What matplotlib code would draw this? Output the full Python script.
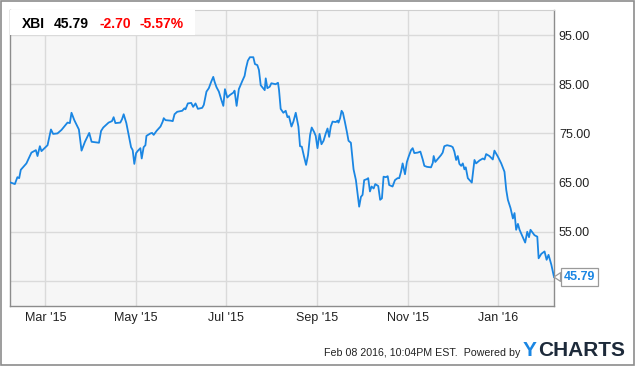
import matplotlib
matplotlib.use("Agg")
import matplotlib.pyplot as plt
import matplotlib.dates as mdates
import matplotlib.patches as mpatches
import numpy as np
import pandas as pd

##### XBI price chart, ycharts style #####

plt.rcParams['font.family'] = ['Liberation Sans', 'DejaVu Sans']

ticker = "XBI"
last_price = "45.79"
change_abs = "-2.70"
change_pct = "-5.57%"
stamp = "Feb 08 2016, 10:04PM EST.  Powered by"

# days since 2015-03-01 and closing price
base_date = "2015-03-01"
day_offset = [-23.5, -20.7, -19.0, -17.8, -16.7, -12.9, -9.5, -6.5, -5.4, -3.8,
              -2.7, 1.4, 3.7, 5.2, 8.1, 10.8, 14.9, 16.5, 17.6, 19.5,
              22.6, 24.4, 26.7, 29.6, 31.2, 36.2, 37.6, 39.1, 42.7, 45.0,
              46.1, 47.3, 50.6, 51.8, 52.9, 54.7, 56.3, 57.9, 59.0, 60.1,
              61.3, 62.6, 64.2, 65.1, 66.4, 67.6, 68.3, 71.0, 72.1, 73.2,
              75.1, 77.8, 79.3, 80.0, 81.2, 84.5, 86.1, 87.3, 89.1, 92.5,
              94.0, 94.7, 96.3, 98.6, 99.9, 101.5, 103.1, 106.0, 107.1, 108.9,
              110.5, 112.1, 113.5, 114.4, 115.7, 117.3, 118.9, 120.3, 121.4, 123.0,
              124.7, 127.1, 127.9, 129.3, 130.8, 133.2, 134.7, 135.6, 136.9, 138.3,
              140.6, 141.7, 143.3, 144.4, 145.6, 148.3, 149.0, 150.1, 151.7, 152.8,
              155.7, 157.3, 158.0, 159.1, 160.9, 162.5, 163.7, 164.7, 166.4, 167.7,
              169.3, 171.1, 172.2, 173.4, 174.9, 176.3, 177.6, 179.0, 180.1, 181.7,
              182.8, 184.0, 185.4, 186.7, 188.1, 189.6, 190.8, 191.9, 193.0, 194.2,
              196.4, 197.6, 198.2, 199.3, 200.3, 201.2, 202.5, 203.9, 205.0, 206.6,
              208.4, 210.0, 211.1, 212.2, 213.4, 214.5, 215.6, 217.4, 218.3, 219.5,
              220.6, 222.0, 223.1, 225.1, 226.4, 227.6, 228.7, 230.3, 231.5, 232.5,
              234.8, 236.4, 238.2, 239.3, 240.5, 241.6, 243.2, 244.5, 245.7, 247.3,
              248.4, 249.5, 251.8, 253.6, 255.2, 256.3, 258.1, 260.8, 262.0, 262.6,
              263.7, 267.6, 268.7, 269.8, 271.7, 274.4, 275.5, 276.6, 277.8, 278.9,
              280.0, 281.2, 282.3, 283.4, 284.3, 285.7, 288.4, 290.2, 291.3, 293.6,
              295.9, 297.0, 298.1, 300.3, 302.6, 303.7, 306.0, 308.3, 310.5, 311.7,
              312.8, 314.6, 316.2, 317.3, 318.4, 319.6, 320.7, 322.3, 324.5, 325.9,
              327.1, 328.1, 330.8, 332.7, 333.6, 335.4, 337.6, 339.0, 340.3, 342.2,
              343.2, 344.0]
price = [65.0, 64.7, 66.1, 65.9, 67.6, 68.9, 71.1, 71.6, 70.4, 72.4,
         71.4, 72.6, 75.8, 74.9, 75.0, 75.7, 77.2, 77.1, 79.2, 77.7,
         75.8, 71.5, 73.3, 75.1, 73.3, 73.1, 75.5, 76.2, 77.2, 77.5,
         78.3, 77.1, 77.2, 77.9, 78.9, 77.1, 74.7, 72.2, 71.6, 68.8,
         71.0, 71.5, 72.0, 69.9, 72.2, 72.6, 74.5, 75.0, 75.1, 74.7,
         75.5, 76.4, 77.4, 78.1, 77.7, 77.6, 77.5, 78.9, 79.4, 79.6,
         80.1, 79.9, 81.1, 81.2, 80.4, 81.1, 80.0, 80.2, 80.8, 83.5,
         84.2, 85.5, 86.5, 85.5, 84.4, 83.5, 81.9, 80.6, 84.0, 82.3,
         82.8, 83.3, 83.7, 80.6, 84.0, 85.7, 86.7, 88.2, 89.8, 90.5,
         90.5, 89.1, 88.9, 87.9, 84.8, 83.8, 86.2, 84.2, 84.5, 85.2,
         85.0, 85.3, 83.8, 80.0, 79.2, 79.6, 78.3, 78.5, 76.4, 77.4,
         79.2, 76.4, 72.4, 72.3, 70.3, 68.6, 70.6, 74.7, 76.2, 75.3,
         74.5, 72.0, 74.9, 72.8, 73.5, 75.0, 76.0, 74.3, 76.4, 77.4,
         77.3, 77.6, 77.2, 78.1, 79.6, 79.2, 77.4, 75.3, 73.5, 73.1,
         67.7, 65.5, 62.8, 60.1, 62.1, 62.5, 65.5, 65.7, 65.9, 63.2,
         64.2, 63.8, 64.7, 64.3, 61.5, 61.8, 66.2, 66.1, 66.3, 64.5,
         64.2, 65.5, 65.9, 65.9, 67.2, 68.9, 66.7, 69.2, 70.3, 71.6,
         72.0, 71.0, 71.1, 71.3, 69.7, 68.4, 68.2, 68.1, 69.0, 70.4,
         69.2, 70.6, 71.1, 72.4, 72.6, 72.4, 72.2, 71.3, 69.6, 70.4,
         68.8, 68.4, 68.9, 67.7, 68.1, 65.9, 65.0, 69.6, 68.9, 69.5,
         69.9, 69.7, 70.8, 70.4, 69.7, 71.5, 70.3, 68.9, 67.2, 63.5,
         61.5, 59.8, 57.7, 58.8, 55.4, 56.6, 55.4, 54.3, 52.8, 55.0,
         53.9, 55.4, 54.3, 54.0, 49.6, 50.5, 51.0, 49.3, 50.3, 48.3,
         46.9, 45.79]

y_ticks = [45, 55, 65, 75, 85, 95]
x_ticks = ["2015-03-01", "2015-05-01", "2015-07-01", "2015-09-01", "2015-11-01", "2016-01-01"]
x_range = ["2015-02-05", "2016-02-08"]

dates = pd.Timestamp(base_date) + pd.to_timedelta(day_offset, unit='D')

line_blue = "#1a86e3"
grid_col = "#dadada"
frame_col = "#8c8c8c"
text_col = "#222222"

fig = plt.figure(figsize=(6.35, 3.66), dpi=100)
fig.patch.set_facecolor("white")
# outer frame
fig.patches.append(mpatches.Rectangle((0.002, 0.002), 0.996, 0.994, transform=fig.transFigure,
                                      fill=False, ec=frame_col, lw=1.2))

ax = fig.add_axes([10/635, 1-306/366, 544/635, 296/366])
ax.set_facecolor("#f6f6f6")
ax.plot(dates, price, color=line_blue, lw=1.3, solid_joinstyle='round', zorder=3)

ax.set_xlim(pd.Timestamp(x_range[0]), pd.Timestamp(x_range[1]))
ax.set_ylim(39.9, 100.1)
ax.set_yticks(y_ticks)
# the bottom label sits under the last-value callout, so it is left blank
ax.set_yticklabels(["" if v == y_ticks[0] else "%.2f" % v for v in y_ticks])
ax.set_xticks([pd.Timestamp(t) for t in x_ticks])
ax.xaxis.set_major_formatter(mdates.DateFormatter("%b '%y"))
ax.yaxis.tick_right()
ax.tick_params(axis='both', length=0, labelsize=9, colors=text_col)
ax.tick_params(axis='y', pad=3.5)
ax.tick_params(axis='x', pad=4)
ax.grid(True, color=grid_col, lw=1)
ax.set_axisbelow(True)
for s in ['left', 'bottom', 'right']:
    ax.spines[s].set_color(frame_col)
    ax.spines[s].set_linewidth(1)
ax.spines['top'].set_color("#cfcfcf")

# header box with ticker, price and change
ax.add_patch(mpatches.Rectangle((0, 1-25/296), 185/544, 25/296, transform=ax.transAxes,
                                fc="white", ec="none", zorder=4))
hy = 1 - 14/296
ax.text(11.5/544, hy, ticker, transform=ax.transAxes, fontsize=10, fontweight='bold',
        color="black", va='center', ha='left', zorder=5)
ax.text(43.5/544, hy, last_price, transform=ax.transAxes, fontsize=10, fontweight='bold',
        color="black", va='center', ha='left', zorder=5)
ax.text(89/544, hy, change_abs, transform=ax.transAxes, fontsize=10, fontweight='bold',
        color="#ff0000", va='center', ha='left', zorder=5)
ax.text(129.5/544, hy, change_pct, transform=ax.transAxes, fontsize=10, fontweight='bold',
        color="#ff0000", va='center', ha='left', zorder=5)

# last value callout
ax.annotate(last_price, xy=(dates[-1], price[-1]), xytext=(7, 0), textcoords='offset points',
            ha='left', va='center', fontsize=9, fontweight='bold', color=line_blue,
            bbox=dict(boxstyle='square,pad=0.22', fc='white', ec='#9a9a9a', lw=0.9),
            arrowprops=dict(arrowstyle='wedge,tail_width=0.7', fc='white', ec='#9a9a9a',
                            lw=0.9, shrinkA=0, shrinkB=0),
            annotation_clip=False, zorder=6)

# footer
fig.text(324/635, 1-353/366, stamp, fontsize=7.7, color=text_col, ha='left', va='center')
fig.text(523/635, 1-350/366, "Y", fontsize=15, fontweight='bold', color="#1a86e3",
         ha='left', va='center')
fig.text(538/635, 1-350/366, "CHARTS", fontsize=15, fontweight='bold', color="#1d2a3a",
         ha='left', va='center')

plt.savefig("out.png", dpi=100)
